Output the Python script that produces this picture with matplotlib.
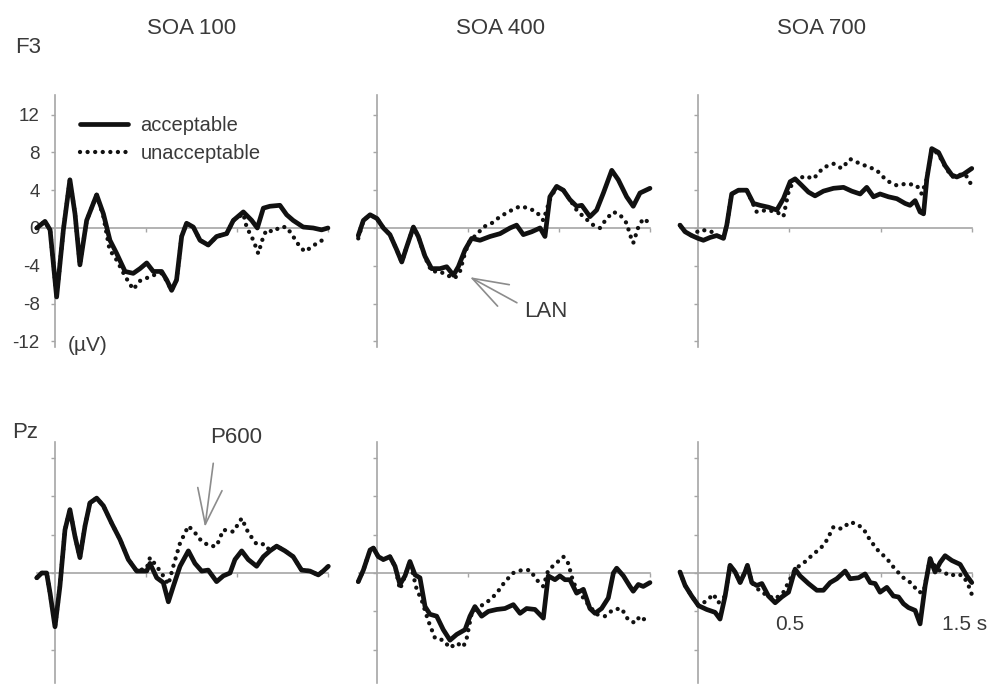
import numpy as np
import matplotlib.pyplot as plt

plt.rcParams['font.family'] = ['Liberation Sans', 'DejaVu Sans']
plt.rcParams['axes.unicode_minus'] = False

# ---- data (time in s, amplitude in microvolts) ----
# F3, SOA 100
f3_100_acc_t = [-0.1, -0.055, -0.027, 0.009, 0.046, 0.082, 0.11, 0.137, 0.174, 0.229,
                0.266, 0.302, 0.339, 0.385, 0.43, 0.467, 0.504, 0.54, 0.586, 0.614,
                0.641, 0.668, 0.696, 0.723, 0.76, 0.797, 0.842, 0.888, 0.943, 0.98,
                1.035, 1.081, 1.112, 1.145, 1.181, 1.236, 1.273, 1.309, 1.364, 1.419,
                1.465, 1.5]
f3_100_acc_v = [0.0, 0.7, -0.2, -7.3, -0.2, 5.1, 1.5, -3.9, 0.8, 3.5,
                1.5, -1.3, -2.7, -4.6, -4.8, -4.3, -3.7, -4.6, -4.6, -5.5,
                -6.6, -5.5, -0.9, 0.5, 0.1, -1.3, -1.8, -0.9, -0.6, 0.8,
                1.7, 0.8, 0.0, 2.1, 2.3, 2.4, 1.4, 0.8, 0.1, 0.0,
                -0.2, 0.0]
f3_100_un_t = [-0.1, -0.055, -0.027, 0.009, 0.046, 0.082, 0.11, 0.137, 0.174, 0.229,
               0.266, 0.30, 0.339, 0.385, 0.43, 0.467, 0.504, 0.54, 0.586, 0.614,
               0.641, 0.668, 0.696, 0.723, 0.76, 0.797, 0.842, 0.888, 0.943, 0.98,
               1.035, 1.053, 1.09, 1.117, 1.145, 1.163, 1.2, 1.236, 1.273, 1.309,
               1.346, 1.374, 1.41, 1.456, 1.5]
f3_100_un_v = [0.0, 0.7, -0.2, -7.3, -0.2, 5.1, 1.5, -3.9, 0.8, 3.5,
               1.2, -2.3, -3.4, -5.1, -6.5, -5.6, -5.3, -5.0, -4.8, -5.6,
               -6.6, -5.5, -0.9, 0.5, 0.1, -1.3, -1.8, -0.9, -0.6, 0.8,
               1.5, 0.1, -1.3, -2.7, -0.9, -0.2, -0.4, 0.1, 0.1, -0.9,
               -2.0, -2.5, -2.0, -1.4, -1.1]

# F3, SOA 400
f3_400_acc_t = [-0.103, -0.075, -0.038, 0.0, 0.035, 0.071, 0.108, 0.136, 0.163, 0.2,
                0.227, 0.264, 0.3, 0.346, 0.383, 0.42, 0.447, 0.484, 0.52, 0.566,
                0.621, 0.676, 0.731, 0.767, 0.804, 0.85, 0.896, 0.923, 0.95, 0.987,
                1.024, 1.06, 1.097, 1.125, 1.17, 1.207, 1.244, 1.29, 1.326, 1.372,
                1.408, 1.445, 1.5]
f3_400_acc_v = [-0.8, 0.8, 1.4, 1.0, 0.0, -0.7, -2.3, -3.6, -2.0, 0.1,
                -0.9, -3.0, -4.3, -4.3, -4.1, -5.0, -4.1, -2.3, -1.1, -1.3,
                -0.9, -0.6, 0.0, 0.3, -0.7, -0.4, 0.0, -0.9, 3.3, 4.4,
                4.0, 3.0, 2.3, 2.4, 1.2, 1.9, 3.7, 6.1, 5.1, 3.3,
                2.3, 3.7, 4.2]
f3_400_un_t = [-0.103, -0.075, -0.038, 0.0, 0.035, 0.071, 0.108, 0.136, 0.163, 0.2,
               0.227, 0.264, 0.3, 0.346, 0.383, 0.428, 0.456, 0.484, 0.511, 0.548,
               0.584, 0.63, 0.676, 0.731, 0.786, 0.832, 0.877, 0.914, 0.95, 0.987,
               1.024, 1.06, 1.097, 1.134, 1.189, 1.225, 1.262, 1.299, 1.335, 1.372,
               1.39, 1.408, 1.436, 1.463, 1.5]
f3_400_un_v = [-1.1, 0.8, 1.4, 1.0, 0.0, -0.7, -2.3, -3.6, -2.0, 0.1,
               -0.9, -3.1, -4.6, -4.6, -5.0, -5.3, -4.6, -2.6, -1.3, -0.7,
               0.1, 0.5, 1.2, 1.8, 2.3, 2.1, 1.7, 0.8, 3.0, 4.4,
               4.0, 3.0, 1.9, 1.2, 0.3, 0.0, 1.0, 1.7, 1.4, 0.5,
               -0.7, -1.6, 0.1, 1.0, 0.5]

# F3, SOA 700
f3_700_acc_t = [-0.099, -0.071, -0.035, 0.0, 0.029, 0.066, 0.102, 0.139, 0.157, 0.184,
                0.221, 0.266, 0.303, 0.339, 0.385, 0.431, 0.467, 0.504, 0.531, 0.568,
                0.604, 0.64, 0.686, 0.741, 0.796, 0.841, 0.887, 0.923, 0.96, 0.996,
                1.042, 1.088, 1.133, 1.16, 1.188, 1.215, 1.234, 1.252, 1.279, 1.316,
                1.352, 1.389, 1.416, 1.453, 1.498]
f3_700_acc_v = [0.3, -0.4, -0.8, -1.1, -1.3, -1.0, -0.8, -1.1, 0.3, 3.6,
                4.0, 4.0, 2.6, 2.4, 2.2, 1.9, 3.1, 4.9, 5.2, 4.5,
                3.8, 3.4, 3.9, 4.2, 4.3, 3.9, 3.6, 4.3, 3.3, 3.6,
                3.3, 3.1, 2.6, 2.4, 2.9, 1.7, 1.5, 5.2, 8.4, 8.0,
                6.6, 5.6, 5.4, 5.7, 6.3]
f3_700_un_t = [-0.099, -0.071, -0.035, 0.011, 0.066, 0.102, 0.139, 0.157, 0.184, 0.221,
               0.266, 0.321, 0.376, 0.431, 0.467, 0.495, 0.522, 0.586, 0.631, 0.686,
               0.741, 0.786, 0.832, 0.887, 0.942, 0.978, 1.033, 1.088, 1.142, 1.197,
               1.224, 1.252, 1.279, 1.316, 1.352, 1.389, 1.425, 1.462, 1.498]
f3_700_un_v = [0.3, -0.4, -0.8, -0.2, -0.3, -0.8, -1.1, 0.3, 3.6, 4.0,
               4.0, 1.7, 1.9, 1.7, 1.2, 3.8, 5.0, 5.5, 5.2, 6.4,
               6.8, 6.3, 7.3, 6.8, 6.4, 6.1, 5.0, 4.5, 4.7, 4.5,
               3.6, 5.2, 8.4, 7.8, 6.5, 5.4, 5.6, 5.7, 4.5]

# Pz, SOA 100
pz_100_acc_t = [-0.1, -0.073, -0.046, -0.027, 0.0, 0.027, 0.055, 0.082, 0.11, 0.137,
                0.165, 0.192, 0.229, 0.266, 0.311, 0.357, 0.403, 0.449, 0.504, 0.522,
                0.559, 0.595, 0.623, 0.65, 0.687, 0.733, 0.769, 0.806, 0.842, 0.888,
                0.925, 0.962, 0.989, 1.026, 1.062, 1.108, 1.145, 1.181, 1.218, 1.264,
                1.309, 1.355, 1.401, 1.447, 1.474, 1.502]
pz_100_acc_v = [-0.5, 0.0, 0.0, -2.1, -5.6, -1.4, 4.5, 6.6, 3.8, 1.6,
                4.9, 7.3, 7.8, 7.0, 5.2, 3.5, 1.4, 0.2, 0.2, 1.0,
                -0.5, -1.0, -3.0, -1.4, 0.7, 2.3, 1.0, 0.2, 0.3, -0.9,
                -0.3, 0.0, 1.4, 2.3, 1.4, 0.7, 1.7, 2.3, 2.8, 2.3,
                1.7, 0.3, 0.2, -0.2, 0.2, 0.7]
pz_100_un_t = [-0.1, -0.073, -0.046, -0.027, 0.0, 0.027, 0.055, 0.082, 0.11, 0.137,
               0.165, 0.192, 0.229, 0.266, 0.311, 0.357, 0.403, 0.449, 0.504, 0.522,
               0.559, 0.595, 0.623, 0.65, 0.687, 0.733, 0.769, 0.806, 0.852, 0.888,
               0.925, 0.98, 1.026, 1.062, 1.108, 1.154, 1.181, 1.218, 1.264, 1.309,
               1.355, 1.401, 1.447, 1.474, 1.502]
pz_100_un_v = [-0.5, 0.0, 0.0, -2.1, -5.6, -1.4, 4.5, 6.6, 3.8, 1.6,
               4.9, 7.3, 7.8, 7.0, 5.2, 3.5, 1.4, 0.2, 0.5, 1.6,
               0.7, -0.3, -1.2, 0.7, 3.1, 4.9, 4.2, 3.3, 2.8, 2.8,
               4.5, 4.3, 5.7, 4.2, 3.0, 3.0, 2.3, 2.8, 2.3, 1.7,
               0.3, 0.2, -0.2, 0.2, 0.7]

# Pz, SOA 400
pz_400_acc_t = [-0.103, -0.075, -0.038, -0.02, 0.007, 0.035, 0.071, 0.099, 0.126, 0.154,
                0.181, 0.209, 0.236, 0.264, 0.291, 0.328, 0.364, 0.401, 0.438, 0.484,
                0.511, 0.538, 0.575, 0.612, 0.658, 0.703, 0.749, 0.786, 0.822, 0.868,
                0.914, 0.941, 0.978, 1.005, 1.033, 1.06, 1.097, 1.134, 1.17, 1.198,
                1.234, 1.271, 1.299, 1.317, 1.354, 1.39, 1.408, 1.436, 1.463, 1.5]
pz_400_acc_v = [-0.9, 0.3, 2.4, 2.6, 1.7, 1.4, 1.7, 0.7, -1.2, -0.3,
                1.2, -0.2, -0.5, -3.5, -4.3, -4.5, -5.9, -7.0, -6.4, -5.9,
                -4.5, -3.5, -4.5, -4.0, -3.8, -3.7, -3.3, -4.2, -3.7, -3.8,
                -4.7, -0.3, -0.7, -0.3, -0.7, -0.7, -2.1, -1.7, -3.7, -4.2,
                -3.7, -2.6, 0.0, 0.5, -0.3, -1.4, -1.9, -1.2, -1.4, -1.0]
pz_400_un_t = [-0.103, -0.075, -0.038, -0.02, 0.007, 0.035, 0.071, 0.099, 0.126, 0.154,
               0.181, 0.218, 0.245, 0.282, 0.319, 0.364, 0.401, 0.438, 0.474, 0.493,
               0.52, 0.566, 0.621, 0.658, 0.703, 0.749, 0.795, 0.841, 0.877, 0.914,
               0.941, 0.978, 1.024, 1.051, 1.079, 1.115, 1.161, 1.207, 1.253, 1.299,
               1.344, 1.381, 1.418, 1.445, 1.473, 1.5]
pz_400_un_v = [-0.9, 0.3, 2.4, 2.6, 1.7, 1.4, 1.7, 0.7, -1.7, -0.3,
               1.2, -1.7, -2.8, -5.0, -6.8, -7.0, -7.8, -7.3, -7.7, -6.8,
               -4.2, -3.5, -2.8, -2.1, -0.9, 0.0, 0.3, 0.3, -0.7, -1.4,
               0.3, 0.9, 1.7, 1.0, -1.0, -2.1, -3.3, -4.3, -4.5, -3.8,
               -3.7, -4.9, -5.2, -4.5, -4.9, -4.9]

# Pz, SOA 700
pz_700_acc_t = [-0.099, -0.071, -0.035, 0.002, 0.047, 0.093, 0.12, 0.148, 0.175, 0.203,
                0.23, 0.257, 0.27, 0.294, 0.321, 0.349, 0.385, 0.422, 0.458, 0.495,
                0.531, 0.558, 0.604, 0.65, 0.686, 0.723, 0.759, 0.805, 0.832, 0.878,
                0.914, 0.942, 0.969, 0.996, 1.033, 1.069, 1.097, 1.124, 1.151, 1.188,
                1.215, 1.243, 1.27, 1.297, 1.325, 1.352, 1.389, 1.434, 1.471, 1.498]
pz_700_acc_v = [0.1, -1.3, -2.4, -3.4, -3.8, -4.1, -4.8, -2.4, 0.8, 0.1,
                -1.0, 0.1, 0.8, -1.0, -1.3, -1.1, -2.4, -3.1, -2.5, -2.0,
                0.4, -0.3, -1.1, -1.8, -1.8, -1.0, -0.6, 0.2, -0.6, -0.5,
                -0.1, -1.0, -1.1, -2.0, -1.5, -2.4, -2.5, -3.2, -3.6, -3.9,
                -5.3, -1.3, 1.5, 0.1, 1.1, 1.8, 1.3, 0.9, -0.3, -1.0]
pz_700_un_t = [-0.099, -0.071, -0.035, 0.002, 0.047, 0.084, 0.111, 0.148, 0.175, 0.203,
               0.23, 0.257, 0.27, 0.294, 0.339, 0.385, 0.422, 0.467, 0.531, 0.558,
               0.595, 0.631, 0.668, 0.704, 0.741, 0.786, 0.832, 0.869, 0.905, 0.942,
               0.987, 1.033, 1.078, 1.124, 1.17, 1.206, 1.234, 1.27, 1.306, 1.343,
               1.379, 1.416, 1.452, 1.48, 1.507]
pz_700_un_v = [0.1, -1.3, -2.4, -3.4, -2.9, -2.2, -3.1, -2.4, 0.8, 0.1,
               -1.0, 0.1, 0.8, -1.0, -1.9, -2.4, -2.7, -2.0, 0.4, 0.8,
               1.3, 2.0, 2.5, 3.4, 4.8, 4.6, 5.3, 5.1, 4.6, 3.4,
               2.3, 1.5, 0.4, -0.5, -1.1, -2.0, -2.0, 1.5, 0.4, 0.1,
               -0.3, -0.1, -0.3, -1.3, -2.7]

soa_labels = ['SOA 100', 'SOA 400', 'SOA 700']
site_labels = ['F3', 'Pz']
cond_labels = ['acceptable', 'unacceptable']
y_ticks = [-12, -8, -4, 0, 4, 8, 12]
x_ticks = [0.5, 1.0, 1.5]

panels = [
    [(f3_100_acc_t, f3_100_acc_v, f3_100_un_t, f3_100_un_v),
     (f3_400_acc_t, f3_400_acc_v, f3_400_un_t, f3_400_un_v),
     (f3_700_acc_t, f3_700_acc_v, f3_700_un_t, f3_700_un_v)],
    [(pz_100_acc_t, pz_100_acc_v, pz_100_un_t, pz_100_un_v),
     (pz_400_acc_t, pz_400_acc_v, pz_400_un_t, pz_400_un_v),
     (pz_700_acc_t, pz_700_acc_v, pz_700_un_t, pz_700_un_v)],
]

# layout (figure fractions) tuned to the reference
col_left = [0.0188, 0.3444, 0.6689]
col_width = [0.3220, 0.3220, 0.3233]
title_x = [0.1936, 0.5056, 0.8311]
row_bottom = [0.4871, 0.0009]
row_height = [0.3868, 0.3649]
row_ylim = [(-13, 15), (-11.5, 14.5)]
row_vbounds = [(-12.6, 14.1), (-11.5, 13.6)]

axis_col = '#a6a6a6'
txt_col = '#3a3a3a'

fig = plt.figure(figsize=(9.89, 6.84), dpi=100)
axes = [[None] * 3, [None] * 3]

for r in range(2):
    for c in range(3):
        ax = fig.add_axes([col_left[c], row_bottom[r], col_width[c], row_height[r]])
        axes[r][c] = ax
        acc_t, acc_v, un_t, un_v = panels[r][c]
        ax.plot(acc_t, acc_v, color='#111111', lw=3.4, solid_capstyle='round',
                solid_joinstyle='round', zorder=3, label=cond_labels[0])
        ax.plot(un_t, un_v, color='#111111', lw=3.1, linestyle=(0, (0.01, 1.75)),
                dash_capstyle='round', zorder=4, label=cond_labels[1])
        ax.set_xlim(-0.2, 1.55)
        ax.set_ylim(*row_ylim[r])
        for s in ['top', 'right']:
            ax.spines[s].set_visible(False)
        ax.spines['left'].set_position(('data', 0))
        ax.spines['bottom'].set_position(('data', 0))
        ax.spines['left'].set_bounds(*row_vbounds[r])
        ax.spines['bottom'].set_bounds(-0.1, 1.5)
        for s in ['left', 'bottom']:
            ax.spines[s].set_color(axis_col)
            ax.spines[s].set_linewidth(1.2)
        ax.set_yticks([y for y in y_ticks if row_vbounds[r][0] <= y <= row_vbounds[r][1]])
        ax.set_xticks(x_ticks)
        ax.set_xticklabels([])
        ax.tick_params(axis='both', colors=axis_col, length=3, width=1)
        if r == 0 and c == 0:
            ax.tick_params(axis='y', labelcolor=txt_col, labelsize=13.5, pad=8)
        else:
            ax.set_yticklabels([])

# column titles and electrode labels
for c, lab in enumerate(soa_labels):
    fig.text(title_x[c], 0.958, lab, ha='center', va='center', fontsize=16, color=txt_col)
fig.text(0.015, 0.931, site_labels[0], ha='left', va='center', fontsize=16, color=txt_col)
fig.text(0.012, 0.367, site_labels[1], ha='left', va='center', fontsize=16, color=txt_col)

# legend in the first panel
ax0 = axes[0][0]
ax0.legend(loc='upper left', bbox_to_anchor=(0.193, 0.887), frameon=False,
           fontsize=14.5, handlelength=2.4, handletextpad=0.6, labelspacing=0.45,
           borderpad=0, borderaxespad=0, labelcolor=txt_col)
ax0.text(0.07, -12.4, '(\u00b5V)', ha='left', va='center', fontsize=15, color=txt_col)

# annotations
arrow_kw = dict(arrowstyle='->,head_length=1.6,head_width=0.55', color='#8c8c8c', lw=1.2)
axes[0][1].annotate('LAN', xy=(0.511, -5.2), xytext=(0.93, -8.8), ha='center', va='center',
                    fontsize=16, color=txt_col,
                    arrowprops=dict(**arrow_kw, relpos=(0.0, 0.7), shrinkA=4, shrinkB=0))
axes[1][0].annotate('P600', xy=(0.824, 4.8), xytext=(0.995, 14.1), ha='center', va='center',
                    fontsize=16, color=txt_col,
                    arrowprops=dict(**arrow_kw, relpos=(0.1, 0.0), shrinkA=9, shrinkB=0))

# time labels on the last panel
ax5 = axes[1][2]
ax5.text(0.5, -5.4, '0.5', ha='center', va='center', fontsize=15, color=txt_col)
ax5.text(1.46, -5.4, '1.5 s', ha='center', va='center', fontsize=15, color=txt_col)

fig.savefig('out.png', dpi=100)
